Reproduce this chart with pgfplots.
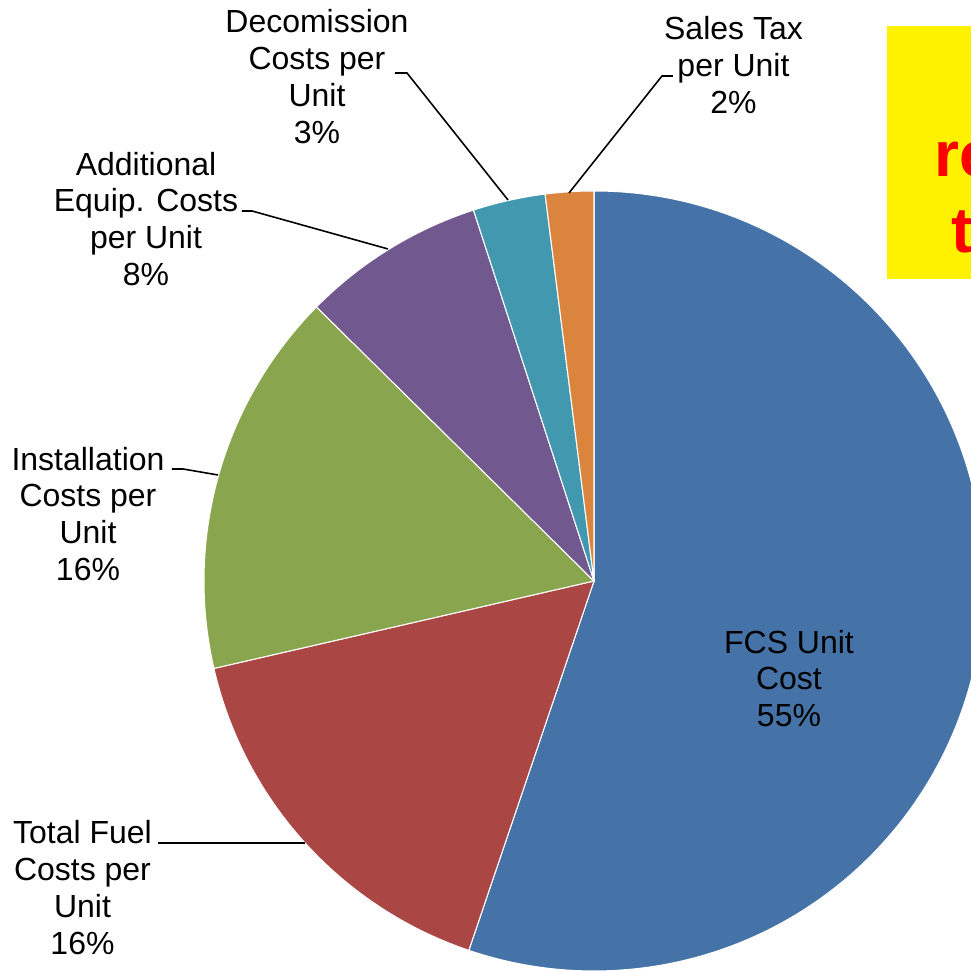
\documentclass[border=0pt]{standalone}
\usepackage{pgfplots}
\pgfplotsset{compat=1.18}
\usepackage{pgfplotstable}
\usepackage{fontspec}
\setmainfont{Liberation Sans}

\definecolor{cfcs}{HTML}{4572A7}
\definecolor{cfuel}{HTML}{AA4643}
\definecolor{cinst}{HTML}{89A54E}
\definecolor{cadd}{HTML}{71588F}
\definecolor{cdec}{HTML}{4198AF}
\definecolor{ctax}{HTML}{DB843D}

% slices, clockwise from 12 o'clock (percent of total)
\pgfplotstableread{
slice pct
FCS 55.2
Fuel 16.2
Install 16.0
Additional 7.6
Decommission 3.0
SalesTax 2.0
}\piedata

\newcommand\getspan[2]{\pgfplotstablegetelem{#1}{pct}\of\piedata\pgfmathsetmacro#2{3.6*\pgfplotsretval}}
\newcommand\lbl{\fontsize{9.1}{10.5}\selectfont}

\begin{document}
\begin{tikzpicture}
\getspan{0}\spA \getspan{1}\spB \getspan{2}\spC
\getspan{3}\spD \getspan{4}\spE \getspan{5}\spF
\pgfmathsetmacro\aO{90}
\pgfmathsetmacro\aA{\aO-\spA}
\pgfmathsetmacro\aB{\aA-\spB}
\pgfmathsetmacro\aC{\aB-\spC}
\pgfmathsetmacro\aD{\aC-\spD}
\pgfmathsetmacro\aE{\aD-\spE}
\pgfmathsetmacro\aF{\aE-\spF}
\begin{axis}[scale only axis, width=9.7cm, height=9.71cm,
  xmin=0, xmax=970, ymin=0, ymax=971, hide axis, clip=false]
\tikzset{wedge/.style={draw=white, line width=0.3pt}}
\fill[cfcs,wedge]  (axis cs:594,390) -- ++(\aO:3.9cm) arc[start angle=\aO, end angle=\aA, radius=3.9cm] -- cycle;
\fill[cfuel,wedge] (axis cs:594,390) -- ++(\aA:3.9cm) arc[start angle=\aA, end angle=\aB, radius=3.9cm] -- cycle;
\fill[cinst,wedge] (axis cs:594,390) -- ++(\aB:3.9cm) arc[start angle=\aB, end angle=\aC, radius=3.9cm] -- cycle;
\fill[cadd,wedge]  (axis cs:594,390) -- ++(\aC:3.9cm) arc[start angle=\aC, end angle=\aD, radius=3.9cm] -- cycle;
\fill[cdec,wedge]  (axis cs:594,390) -- ++(\aD:3.9cm) arc[start angle=\aD, end angle=\aE, radius=3.9cm] -- cycle;
\fill[ctax,wedge]  (axis cs:594,390) -- ++(\aE:3.9cm) arc[start angle=\aE, end angle=\aF, radius=3.9cm] -- cycle;

% leader lines
\draw[black, line width=0.45pt] (axis cs:395,898) -- (axis cs:407,898) -- (axis cs:508,771);
\draw[black, line width=0.45pt] (axis cs:673,895) -- (axis cs:662,895) -- (axis cs:569,778);
\draw[black, line width=0.45pt] (axis cs:242,760) -- (axis cs:252,760) -- (axis cs:388,722);
\draw[black, line width=0.45pt] (axis cs:172,502) -- (axis cs:183,502) -- (axis cs:218,496);
\draw[black, line width=0.45pt] (axis cs:158,128) -- (axis cs:305,128);

% labels
\tikzset{plab/.style={align=center, inner sep=0pt, font=\lbl}}
\node[plab] at (axis cs:317,894.5) {Decomission\\Costs per\\Unit\\3\%};
\node[plab] at (axis cs:733.5,906) {Sales Tax\\per Unit\\2\%};
\node[plab] at (axis cs:146,752) {Additional\\Equip. Costs\\per Unit\\8\%};
\node[plab] at (axis cs:88,457) {Installation\\Costs per\\Unit\\16\%};
\node[plab] at (axis cs:82.5,83.5) {Total Fuel\\Costs per\\Unit\\16\%};
\node[plab] at (axis cs:789,292.5) {FCS Unit\\Cost\\55\%};

% partially visible callout box at the right edge
\fill[yellow] (axis cs:887,945) rectangle (axis cs:985,692);
\node[anchor=base west, inner sep=0pt, text=red, font=\fontsize{18.2}{21}\selectfont\bfseries] at (axis cs:934,794) {re};
\node[anchor=base west, inner sep=0pt, text=red, font=\fontsize{18.2}{21}\selectfont\bfseries] at (axis cs:951,718) {t};
\end{axis}
\pgfresetboundingbox
\useasboundingbox (0,0) rectangle (9.7cm,9.71cm);
\end{tikzpicture}
\end{document}
